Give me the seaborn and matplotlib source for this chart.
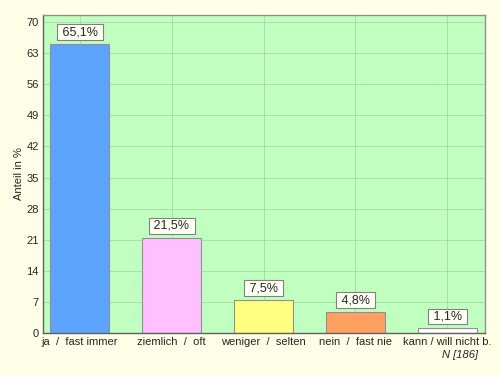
import matplotlib
matplotlib.use("Agg")
import matplotlib.pyplot as plt
import seaborn as sns
import pandas as pd

categories = ["ja  /  fast immer", "ziemlich  /  oft", "weniger  /  selten", "nein  /  fast nie", "kann / will nicht b."]
values = [65.1, 21.5, 7.5, 4.8, 1.1]
labels = ["65,1%", "21,5%", "7,5%", "4,8%", "1,1%"]
colors = ["#5CA4FF", "#FFC0FF", "#FFFF80", "#FFA060", "#FFFFFF"]
yticks = [0, 7, 14, 21, 28, 35, 42, 49, 56, 63, 70]

sns.set_style("whitegrid")
plt.rcParams['font.family'] = ['Liberation Sans', 'DejaVu Sans']

df = pd.DataFrame({"cat": categories, "val": values})

fig = plt.figure(figsize=(5, 3.75), dpi=100, facecolor="#FFFFE8")
ax = fig.add_axes([0.086, 0.112, 0.884, 0.848])
ax.set_facecolor("#C0FFC0")

sns.barplot(data=df, x="cat", y="val", hue="cat", palette=colors, legend=False,
            width=0.64, edgecolor="#909090", linewidth=0.8, ax=ax, saturation=1)

ax.set_xlim(-0.4, 4.41)
ax.set_ylim(0, 71.6)
ax.set_yticks(yticks)
ax.set_yticklabels([str(t) for t in yticks], fontsize=8)
ax.tick_params(axis='x', labelsize=8, length=0, pad=3)
ax.tick_params(axis='y', length=0, pad=3)
ax.grid(True, color="#A8D8A8", linewidth=0.6)
ax.set_axisbelow(True)
ax.set_xlabel("")
ax.set_ylabel("Anteil in %", fontsize=8, labelpad=2)

for s in ["left", "bottom"]:
    ax.spines[s].set_color("#606060")
    ax.spines[s].set_linewidth(1.0)
for s in ["top", "right"]:
    ax.spines[s].set_color("#909090")
    ax.spines[s].set_linewidth(1.0)

for i, (v, lab) in enumerate(zip(values, labels)):
    ax.annotate(" " + lab + " ", xy=(i, v), xytext=(0, 4), textcoords="offset points",
                ha="center", va="bottom", fontsize=9,
                bbox=dict(boxstyle="square,pad=0.15", fc="#FFFFF4", ec="#808080", lw=0.8))

ax.annotate("N [186]", xy=(4.34, 0), xycoords="data", xytext=(0, -12), textcoords="offset points",
            ha="right", va="top", fontsize=8, style="italic")

fig.savefig("out.png", dpi=100, facecolor=fig.get_facecolor())
